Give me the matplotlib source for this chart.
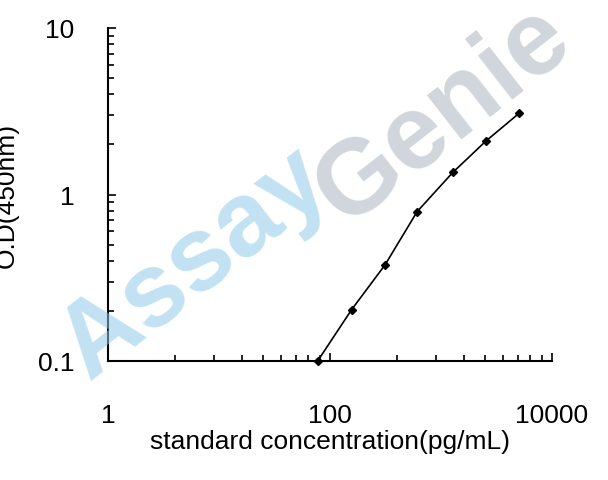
import matplotlib
matplotlib.use("Agg")
import matplotlib.pyplot as plt
from matplotlib.ticker import LogLocator, FixedLocator, NullFormatter

conc = [88, 125, 177, 247, 358, 505, 710]
od = [0.100, 0.203, 0.378, 0.79, 1.36, 2.1, 3.07]
xtick_vals = [10, 100, 1000]
xtick_labels = ["1", "100", "10000"]
ytick_vals = [0.1, 1, 10]
ytick_labels = ["0.1", "1", "10"]

fig = plt.figure(figsize=(6.08, 4.81), dpi=100)
ax = fig.add_axes([108/608, 1-362/481, (552-108)/608, (362-29)/481])
ax.set_xscale("log"); ax.set_yscale("log")
ax.set_xlim(10, 1000); ax.set_ylim(0.1, 10)

fig.text(0.32, 0.45, "Assay", rotation=38, fontsize=76, fontweight="bold",
         color="#8fcbea", alpha=0.55, ha="center", va="center", family="Liberation Sans")
fig.text(0.73, 0.76, "Genie", rotation=38, fontsize=76, fontweight="bold",
         color="#a9b4bf", alpha=0.55, ha="center", va="center", family="Liberation Sans")

ax.plot(conc, od, color="black", lw=1.2, marker="D", ms=4, mfc="black", mec="black", clip_on=False, zorder=5)

for s in ["top", "right"]:
    ax.spines[s].set_visible(False)
for s in ["left", "bottom"]:
    ax.spines[s].set_linewidth(1.5)
ax.patch.set_alpha(0)

ax.xaxis.set_major_locator(FixedLocator(xtick_vals))
ax.set_xticklabels(xtick_labels)
ax.yaxis.set_major_locator(FixedLocator(ytick_vals))
ax.set_yticklabels(ytick_labels)
ax.xaxis.set_minor_locator(LogLocator(subs=range(2, 10)))
ax.yaxis.set_minor_locator(LogLocator(subs=range(2, 10)))
ax.xaxis.set_minor_formatter(NullFormatter()); ax.yaxis.set_minor_formatter(NullFormatter())
ax.tick_params(which="both", direction="in", width=1.2, labelsize=19)
ax.tick_params(which="major", length=6)
ax.tick_params(which="minor", length=4)
ax.tick_params(axis="x", pad=30)
ax.tick_params(axis="y", pad=24)
ax.set_xlabel("standard concentration(pg/mL)", fontsize=19, labelpad=2)
ax.set_ylabel("O.D(450nm)", fontsize=19, labelpad=14)
for t in ax.get_xticklabels() + ax.get_yticklabels():
    t.set_family("Liberation Sans")
ax.xaxis.label.set_family("Liberation Sans"); ax.yaxis.label.set_family("Liberation Sans")
fig.savefig("out.png", dpi=100)
